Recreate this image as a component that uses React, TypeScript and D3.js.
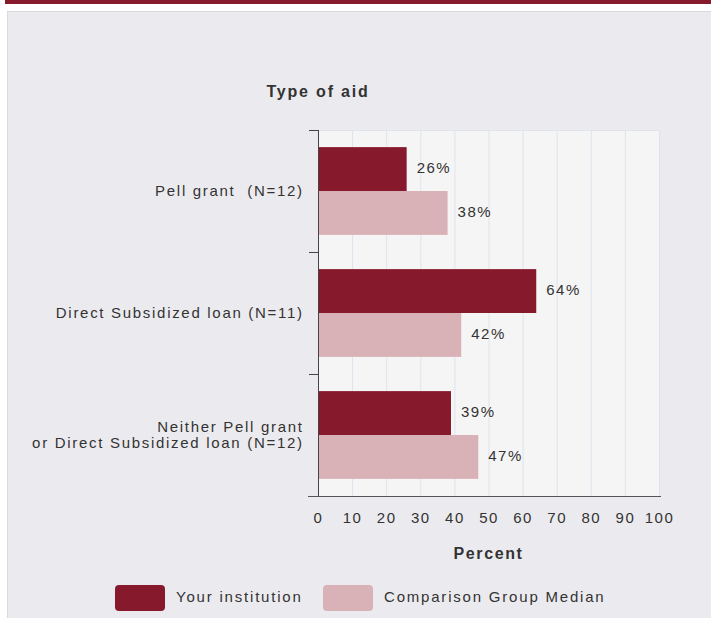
import { useEffect, useRef } from "react";
import * as d3 from "d3";

const categories = [
  "Pell grant  (N=12)",
  "Direct Subsidized loan (N=11)",
  "Neither Pell grant\nor Direct Subsidized loan (N=12)",
];
const seriesNames = ["Your institution", "Comparison Group Median"];
const institution = [26, 64, 39];
const comparison = [38, 42, 47];
const xTicks = [0, 10, 20, 30, 40, 50, 60, 70, 80, 90, 100];
const colors = ["#861a2c", "#d8b2b7"];

export default function App() {
  const ref = useRef<SVGSVGElement>(null);
  const width = 711;
  const height = 618;

  useEffect(() => {
    const svg = d3.select(ref.current);
    svg.selectAll("*").remove();

    const left = 318;
    const right = 659;
    const top = 130;
    const bottom = 496;
    const font = "Liberation Sans, Arial, sans-serif";
    const ls = 1.7;

    // page chrome
    svg.append("rect").attr("width", width).attr("height", height).attr("fill", "#fff");
    svg.append("rect").attr("x", 5).attr("y", 0).attr("width", width - 5).attr("height", 4).attr("fill", "#861a2c");
    svg
      .append("rect")
      .attr("x", 7.5)
      .attr("y", 11.5)
      .attr("width", width)
      .attr("height", height)
      .attr("fill", "#ebebef")
      .attr("stroke", "#d9d9dc");

    const x = d3.scaleLinear().domain([0, 100]).range([left, right]);
    const y = d3.scaleBand().domain(categories).range([top, bottom]);
    const inner = d3
      .scaleBand()
      .domain(seriesNames)
      .range([0, y.bandwidth()])
      .paddingOuter(0.39);

    svg
      .append("rect")
      .attr("x", left)
      .attr("y", top)
      .attr("width", right - left)
      .attr("height", bottom - top)
      .attr("fill", "#f5f5f5");

    // grid
    svg
      .append("g")
      .selectAll("line")
      .data(xTicks.slice(1))
      .join("line")
      .attr("x1", (d) => x(d) + 0.5)
      .attr("x2", (d) => x(d) + 0.5)
      .attr("y1", top)
      .attr("y2", bottom)
      .attr("stroke", "#dfe3ec");
    svg
      .append("line")
      .attr("x1", left)
      .attr("x2", right + 1)
      .attr("y1", top + 0.5)
      .attr("y2", top + 0.5)
      .attr("stroke", "#dfe3ec");

    const rows = categories.map((c, i) => ({ c, vals: [institution[i], comparison[i]] }));

    const g = svg
      .append("g")
      .selectAll("g")
      .data(rows)
      .join("g")
      .attr("transform", (d) => `translate(0,${y(d.c)})`);

    g.selectAll("rect")
      .data((d) => d.vals.map((v, j) => ({ v, s: seriesNames[j], j })))
      .join("rect")
      .attr("x", x(0))
      .attr("y", (d) => inner(d.s)!)
      .attr("width", (d) => x(d.v) - x(0))
      .attr("height", inner.bandwidth())
      .attr("fill", (d) => colors[d.j]);

    g.selectAll("text")
      .data((d) => d.vals.map((v, j) => ({ v, s: seriesNames[j] })))
      .join("text")
      .attr("x", (d) => x(d.v) + 10)
      .attr("y", (d) => inner(d.s)! + inner.bandwidth() / 2)
      .attr("dy", "0.25em")
      .attr("font-family", font)
      .attr("font-size", 15)
      .attr("letter-spacing", 1.5)
      .attr("fill", "#333")
      .text((d) => `${d.v}%`);

    // y axis
    const yAxis = svg
      .append("g")
      .attr("transform", `translate(${left},0)`)
      .call(d3.axisLeft(y).tickSize(0).tickFormat(() => ""));
    yAxis.select(".domain").attr("stroke", "#444").attr("d", `M0.5,${top}V${bottom}`);
    yAxis
      .append("g")
      .selectAll("line")
      .data([top, ...categories.map((c) => y(c)! + y.bandwidth())])
      .join("line")
      .attr("x1", -9)
      .attr("x2", 0)
      .attr("y1", (d) => d + 0.5)
      .attr("y2", (d) => d + 0.5)
      .attr("stroke", "#444");

    svg
      .append("g")
      .selectAll("text")
      .data(categories)
      .join("text")
      .attr("text-anchor", "end")
      .attr("font-family", font)
      .attr("font-size", 15)
      .attr("letter-spacing", ls)
      .attr("fill", "#333")
      .style("white-space", "pre")
      .attr("transform", (d) => {
        const lines = d.split("\n").length;
        return `translate(${302 + ls},${y(d)! + y.bandwidth() / 2 - (lines - 1) * 8})`;
      })
      .each(function (d) {
        const t = d3.select(this);
        d.split("\n").forEach((line, i) => {
          t.append("tspan").attr("x", 0).attr("dy", i === 0 ? "0.35em" : 16).text(line);
        });
      });

    // x axis
    const xAxis = svg
      .append("g")
      .attr("transform", `translate(0,${bottom})`)
      .call(d3.axisBottom(x).tickValues(xTicks).tickSize(0).tickPadding(16));
    xAxis.select(".domain").attr("stroke", "#555").attr("d", `M308,0.5H661`);
    xAxis
      .selectAll(".tick text")
      .attr("font-family", font)
      .attr("font-size", 15)
      .attr("letter-spacing", 1.5)
      .attr("fill", "#333");

    svg
      .append("text")
      .attr("x", (left + right) / 2)
      .attr("y", 559)
      .attr("text-anchor", "middle")
      .attr("font-family", font)
      .attr("font-size", 16)
      .attr("letter-spacing", 1.6)
      .attr("font-weight", "bold")
      .attr("fill", "#333")
      .text("Percent");

    svg
      .append("text")
      .attr("x", 318)
      .attr("y", 97)
      .attr("text-anchor", "middle")
      .attr("font-family", font)
      .attr("font-size", 16)
      .attr("letter-spacing", 1.8)
      .attr("font-weight", "bold")
      .attr("fill", "#333")
      .text("Type of aid");

    // legend
    const legendX = [115, 323];
    const legend = svg
      .append("g")
      .selectAll("g")
      .data(seriesNames)
      .join("g")
      .attr("transform", (_d, i) => `translate(${legendX[i]},585)`);
    legend
      .append("rect")
      .attr("width", 50)
      .attr("height", 26)
      .attr("rx", 4)
      .attr("fill", (_d, i) => colors[i]);
    legend
      .append("text")
      .attr("x", 61)
      .attr("y", 12)
      .attr("dy", "0.35em")
      .attr("font-family", font)
      .attr("font-size", 15)
      .attr("letter-spacing", 1.8)
      .attr("fill", "#333")
      .text((d) => d);
  }, []);

  return (
    <svg
      ref={ref}
      width={width}
      height={height}
      style={{ position: "absolute", left: 0, top: 0 }}
    />
  );
}
